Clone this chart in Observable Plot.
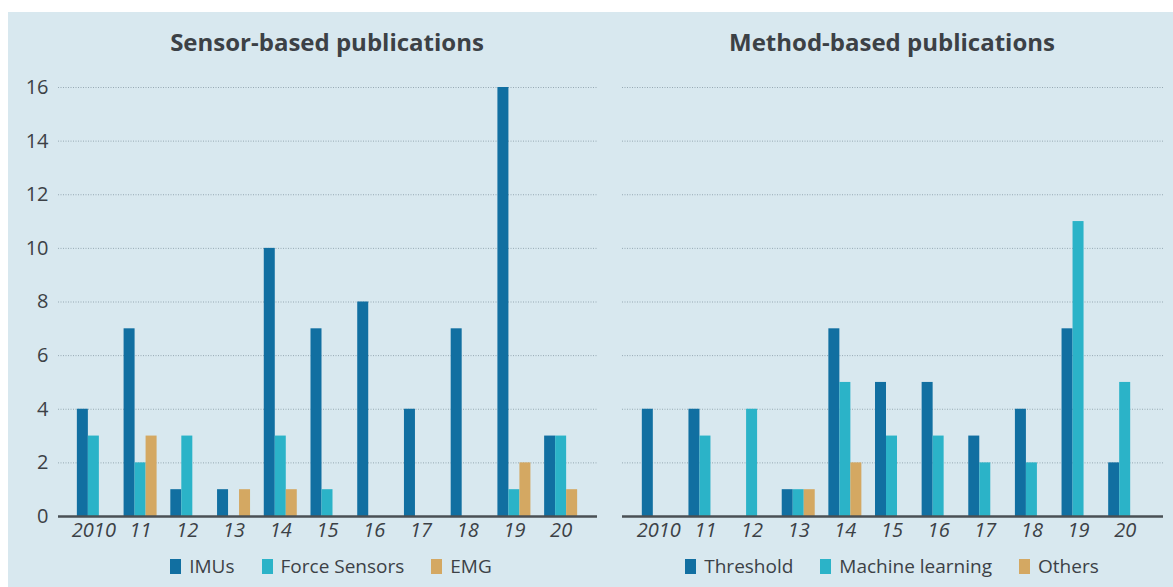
<!DOCTYPE html>
<html>
<head>
<meta charset="utf-8">
<script src="https://cdn.jsdelivr.net/npm/d3@7"></script>
<script src="https://cdn.jsdelivr.net/npm/@observablehq/plot@0.6"></script>
<style>
  html, body { margin: 0; padding: 0; background: #ffffff; }
  body { width: 1173px; height: 587px; position: relative; overflow: hidden; font-family: "Open Sans", sans-serif; color: #3c4146; }
  #bg { position: absolute; left: 8px; top: 12px; width: 1165px; height: 575px; background: #d8e8ef; }
  .panel { position: absolute; top: 60px; }
  .title { position: absolute; top: 27px; width: 500px; text-align: center; font-weight: bold; font-size: 24px; line-height: 30px; color: #3c4146; }
  .legend { position: absolute; top: 552px; width: 560px; display: flex; justify-content: center; gap: 27px; font-size: 19px; line-height: 28px; color: #3c4146; }
  .legend .item { display: flex; align-items: center; }
  .legend .sw { width: 11px; height: 15px; margin-right: 8px; display: inline-block; }
</style>
</head>
<body>
<div id="bg"></div>
<div id="root"></div>
<script>
// ---- data ----
const years = ["2010", "11", "12", "13", "14", "15", "16", "17", "18", "19", "20"];
const yTicks = [0, 2, 4, 6, 8, 10, 12, 14, 16];

const sensorTitle = "Sensor-based publications";
const sensorSeries = ["IMUs", "Force Sensors", "EMG"];
const imus = [4, 7, 1, 1, 10, 7, 8, 4, 7, 16, 3];
const forceSensors = [3, 2, 3, 0, 3, 1, 0, 0, 0, 1, 3];
const emg = [0, 3, 0, 1, 1, 0, 0, 0, 0, 2, 1];

const methodTitle = "Method-based publications";
const methodSeries = ["Threshold", "Machine learning", "Others"];
const threshold = [4, 4, 0, 1, 7, 5, 5, 3, 4, 7, 2];
const machineLearning = [0, 3, 4, 1, 5, 3, 3, 2, 2, 11, 5];
const others = [0, 0, 0, 1, 2, 0, 0, 0, 0, 0, 0];

const colors = ["#116fa1", "#2bb3c8", "#d4a862"];

// ---- drawing ----
const textColor = "#3c4146";
const font = "'Open Sans', sans-serif";
const barW = 11;

function panel({series, values, showY, width, marginLeft, marginRight, xRange}) {
  const step = (xRange[1] - xRange[0]) / years.length;
  const p = 1 - barW / step;
  const marks = [
    Plot.ruleY(yTicks.slice(1), {stroke: "#96a9b3", strokeWidth: 1, strokeDasharray: "1,1.5"}),
  ];
  values.forEach((vals, i) => {
    const rows = years.map((y, j) => ({year: y, value: vals[j], series: series[i]}));
    marks.push(Plot.barY(rows, {x: "year", y: "value", fill: "series", dx: (i - 1) * barW, insetLeft: 0, insetRight: 0}));
  });
  marks.push(Plot.ruleY([0], {stroke: "#4a5055", strokeWidth: 2.5}));
  marks.push(Plot.text(years, {x: d => d, frameAnchor: "bottom", dy: 14, fontStyle: "italic", fontSize: 20, fill: textColor, lineAnchor: "middle"}));
  if (showY) {
    marks.push(Plot.text(yTicks, {y: d => d, frameAnchor: "left", dx: -10, textAnchor: "end", fontSize: 20, fill: textColor, lineAnchor: "middle"}));
  }
  return Plot.plot({
    width, height: 500,
    marginTop: 27, marginBottom: 44, marginLeft, marginRight,
    style: {background: "transparent", fontFamily: font, color: textColor, overflow: "visible"},
    x: {domain: years, range: xRange, paddingInner: p, paddingOuter: p / 2, round: false, axis: null},
    y: {domain: [0, 16], axis: null},
    color: {domain: series, range: colors},
    marks
  });
}

function legend(series, left) {
  const div = document.createElement("div");
  div.className = "legend";
  div.style.left = left + "px";
  series.forEach((s, i) => {
    const it = document.createElement("div");
    it.className = "item";
    const sw = document.createElement("span");
    sw.className = "sw";
    sw.style.background = colors[i];
    it.appendChild(sw);
    it.appendChild(document.createTextNode(s));
    div.appendChild(it);
  });
  return div;
}

function title(text, center) {
  const d = document.createElement("div");
  d.className = "title";
  d.style.left = (center - 250) + "px";
  d.textContent = text;
  return d;
}

const root = document.getElementById("root");

const left = panel({series: sensorSeries, values: [imus, forceSensors, emg], showY: true,
  width: 600, marginLeft: 58, marginRight: 3, xRange: [70, 584]});
left.classList.add("panel");
left.style.left = "0px";
root.appendChild(left);

const right = panel({series: methodSeries, values: [threshold, machineLearning, others], showY: false,
  width: 573, marginLeft: 22, marginRight: 10, xRange: [35, 548]});
right.classList.add("panel");
right.style.left = "600px";
root.appendChild(right);

root.appendChild(title(sensorTitle, 327));
root.appendChild(title(methodTitle, 892));
root.appendChild(legend(sensorSeries, 331 - 280));
root.appendChild(legend(methodSeries, 892 - 280));
</script>
</body>
</html>
